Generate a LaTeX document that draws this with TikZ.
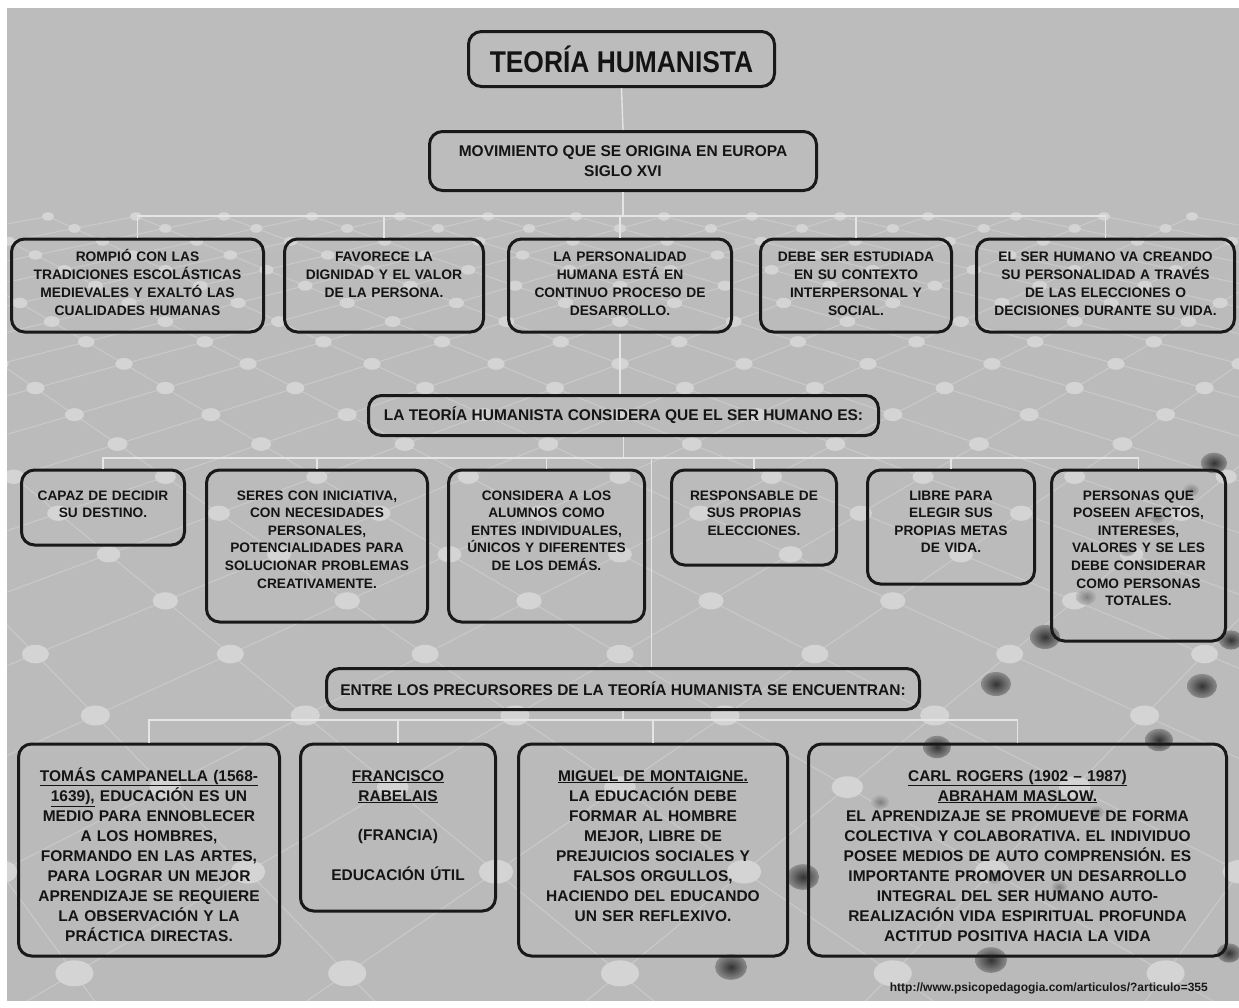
\documentclass[tikz,border=0pt]{standalone}
\usepackage{fontspec}
\setmainfont{Liberation Sans}
\newfontfamily\titlefont{Liberation Sans}[FakeStretch=0.88]
\definecolor{bgtop}{HTML}{BCBCBC}
\definecolor{bgmid}{HTML}{ADADAD}
\definecolor{bgbot}{HTML}{BABABA}
\definecolor{meshgray}{HTML}{C9C9C9}
\definecolor{knotgray}{HTML}{D4D4D4}
\newcommand{\undl}[1]{\underline{#1}}
\begin{document}
\begin{tikzpicture}[x=1pt,y=-1pt]
        \tikzstyle{frame}=[draw=black!90,line width=3pt,rounded corners=13pt,text=black!92,align=center]
        \tikzstyle{head}=[frame,font=\fontsize{15.5}{20}\selectfont\bfseries]
        \tikzstyle{idea}=[frame,anchor=north,inner sep=0pt,text height=22pt,font=\fontsize{13.8}{18}\selectfont\bfseries]
        \tikzstyle{trait}=[idea,text height=30pt,font=\fontsize{13.7}{17.6}\selectfont\bfseries]
        \tikzstyle{author}=[idea,text height=37pt,font=\fontsize{15.5}{20.1}\selectfont\bfseries]
        \tikzstyle{conn}=[draw=black!10,line width=1.4pt]
        \tikzstyle{mesh}=[draw=meshgray,line width=1.1pt]
        \tikzstyle{knot}=[fill=knotgray]
        \tikzstyle{blob}=[inner color=black!80,outer color=black!45]
        \tikzstyle{smudge}=[inner color=black!60,outer color=black!30,opacity=0.7]

        \useasboundingbox (0,0) rectangle (1239,1007);
        \fill[white] (0,0) rectangle (1239,1007);
        \fill[top color=bgtop,middle color=bgmid,bottom color=bgbot] (7,8) rectangle (1239,1000);

        % background net
        \begin{scope}
          \clip (7,205) rectangle (1239,1000);
          \foreach \c in {-46,-44,...,8}
            \draw[mesh] ({620+1364/31*(31+\c)},{-144+11173/31}) -- ({620+1364/9*(9+\c)},{-144+11173/9});
          \foreach \c in {-8,-6,...,46}
            \draw[mesh] ({620+1364/31*(\c-31)},{-144+11173/31}) -- ({620+1364/9*(\c-9)},{-144+11173/9});
          \foreach \v in {10,...,31}
            \foreach \u in {-16,...,16} {
              \pgfmathtruncatemacro\odd{mod(abs(\u+\v),2)}
              \ifnum\odd=0
                \fill[knot] ({620+1364/\v*(\u)},{-144+11173/\v}) ellipse [x radius=190/\v, y radius=130/\v];
              \fi
            }
        \end{scope}
        \foreach \x/\y/\r in {1214/463/13,1045/637/15,1231/640/12,996/684/15,1202/686/15,937/747/14,
                              1159/740/14,803/877/16,731/967/16,991/960/16,1229/953/12}
          \shade[blob] (\x,\y) ellipse [x radius=\r, y radius=0.8*\r];
        \foreach \x/\y/\r in {1191/490/8,1157/517/8,1127/550/8,1086/597/10,880/802/9,1096/812/8,994/877/9,1059/887/8}
          \shade[smudge] (\x,\y) ellipse [x radius=\r, y radius=0.8*\r];

        % title and origin
        \node [head,minimum width=306pt,minimum height=55pt,font=\titlefont\fontsize{30}{36}\selectfont\bfseries] (title) at (621.5,59) {TEORÍA HUMANISTA};
        \node [head,minimum width=387pt,minimum height=59pt] (mov) at (623,161) {MOVIMIENTO QUE SE ORIGINA EN EUROPA\\SIGLO XVI};

        % first row
        \node [idea,text width=252pt,text depth=71pt] (r1a) at (137.5,237.5) {ROMPIÓ CON LAS\\TRADICIONES ESCOLÁSTICAS\\MEDIEVALES Y EXALTÓ LAS\\CUALIDADES HUMANAS};
        \node [idea,text width=199pt,text depth=71pt] (r1b) at (384,237.5) {FAVORECE LA\\DIGNIDAD Y EL VALOR\\DE LA PERSONA.};
        \node [idea,text width=223pt,text depth=71pt] (r1c) at (620,237.5) {LA PERSONALIDAD\\HUMANA ESTÁ EN\\CONTINUO PROCESO DE\\DESARROLLO.};
        \node [idea,text width=191pt,text depth=71pt] (r1d) at (856,237.5) {DEBE SER ESTUDIADA\\EN SU CONTEXTO\\INTERPERSONAL Y\\SOCIAL.};
        \node [idea,text width=258pt,text depth=71pt] (r1e) at (1105.5,237.5) {EL SER HUMANO VA CREANDO\\SU PERSONALIDAD A TRAVÉS\\DE LAS ELECCIONES O\\DECISIONES DURANTE SU VIDA.};

        \node [head,minimum width=510pt,minimum height=40pt] (es) at (623.5,415.5) {LA TEORÍA HUMANISTA CONSIDERA QUE EL SER HUMANO ES:};

        % second row
        \node [trait,text width=163pt,text depth=45pt] (r2a) at (103,468.5) {CAPAZ DE DECIDIR\\SU DESTINO.};
        \node [trait,text width=221pt,text depth=122pt] (r2b) at (317,468.5) {SERES CON INICIATIVA,\\CON NECESIDADES\\PERSONALES,\\POTENCIALIDADES PARA\\SOLUCIONAR PROBLEMAS\\CREATIVAMENTE.};
        \node [trait,text width=196pt,text depth=122pt] (r2c) at (546.5,468.5) {CONSIDERA A LOS\\ALUMNOS COMO\\ENTES INDIVIDUALES,\\ÚNICOS Y DIFERENTES\\DE LOS DEMÁS.};
        \node [trait,text width=165pt,text depth=65pt] (r2d) at (754,468.5) {RESPONSABLE DE\\SUS PROPIAS\\ELECCIONES.};
        \node [trait,text width=167pt,text depth=84pt] (r2e) at (951,468.5) {LIBRE PARA\\ELEGIR SUS\\PROPIAS METAS\\DE VIDA.};
        \node [trait,text width=174pt,text depth=141pt] (r2f) at (1138.5,468.5) {PERSONAS QUE\\POSEEN AFECTOS,\\INTERESES,\\VALORES Y SE LES\\DEBE CONSIDERAR\\COMO PERSONAS\\TOTALES.};

        \node [head,minimum width=593pt,minimum height=41pt] (pre) at (623,689) {ENTRE LOS PRECURSORES DE LA TEORÍA HUMANISTA SE ENCUENTRAN:};

        % precursors
        \node [author,text width=261pt,text depth=175pt] (campanella) at (149,742.5) {\undl{TOMÁS CAMPANELLA (1568-}\\\undl{1639),} EDUCACIÓN ES UN\\MEDIO PARA ENNOBLECER\\A LOS HOMBRES,\\FORMANDO EN LAS ARTES,\\PARA LOGRAR UN MEJOR\\APRENDIZAJE SE REQUIERE\\LA OBSERVACIÓN Y LA\\PRÁCTICA DIRECTAS.};
        \node [author,text width=195pt,text depth=130pt] (rabelais) at (398,742.5) {\undl{FRANCISCO}\\\undl{RABELAIS}\\[19pt](FRANCIA)\\[20pt]EDUCACIÓN ÚTIL};
        \node [author,text width=269pt,text depth=175pt] (montaigne) at (653,742.5) {\undl{MIGUEL DE MONTAIGNE.}\\LA EDUCACIÓN DEBE\\FORMAR AL HOMBRE\\MEJOR, LIBRE DE\\PREJUICIOS SOCIALES Y\\FALSOS ORGULLOS,\\HACIENDO DEL EDUCANDO\\UN SER REFLEXIVO.};
        \node [author,text width=418pt,text depth=175pt] (rogers) at (1017.5,742.5) {\undl{CARL ROGERS (1902 -- 1987)}\\\undl{ABRAHAM MASLOW.}\\EL APRENDIZAJE SE PROMUEVE DE FORMA\\COLECTIVA Y COLABORATIVA. EL INDIVIDUO\\POSEE MEDIOS DE AUTO COMPRENSIÓN. ES\\IMPORTANTE PROMOVER UN DESARROLLO\\INTEGRAL DEL SER HUMANO AUTO-\\REALIZACIÓN VIDA ESPIRITUAL PROFUNDA\\ACTITUD POSITIVA HACIA LA VIDA};

        \node [anchor=east,inner sep=0pt,text=black!90,font=\fontsize{12}{14}\selectfont\bfseries] (url) at (1208,988) {http://www.psicopedagogia.com/articulos/?articulo=355};

        % connectors
        \draw[conn] (title.south) -- (mov.north);
        \draw[conn] (mov.south) -- ++(0,24) coordinate (bar1);
        \foreach \b in {r1a,r1b,r1c,r1d,r1e}
          \draw[conn] (bar1) -| (\b.north);
        \draw[conn] (r1c.south) -- (r1c.south |- es.north);
        \draw[conn] (es.south) -- ++(0,21) coordinate (bar2);
        \foreach \b in {r2a,r2b,r2c,r2d,r2e,r2f}
          \draw[conn] (bar2) -| (\b.north);
        \draw[conn] (bar2) ++(28,0) coordinate (bar2r) -- (bar2r |- pre.north);
        \draw[conn] (pre.south) -- ++(0,9) coordinate (bar3);
        \foreach \b in {campanella,rabelais,montaigne,rogers}
          \draw[conn] (bar3) -| (\b.north);
\end{tikzpicture}
\end{document}
